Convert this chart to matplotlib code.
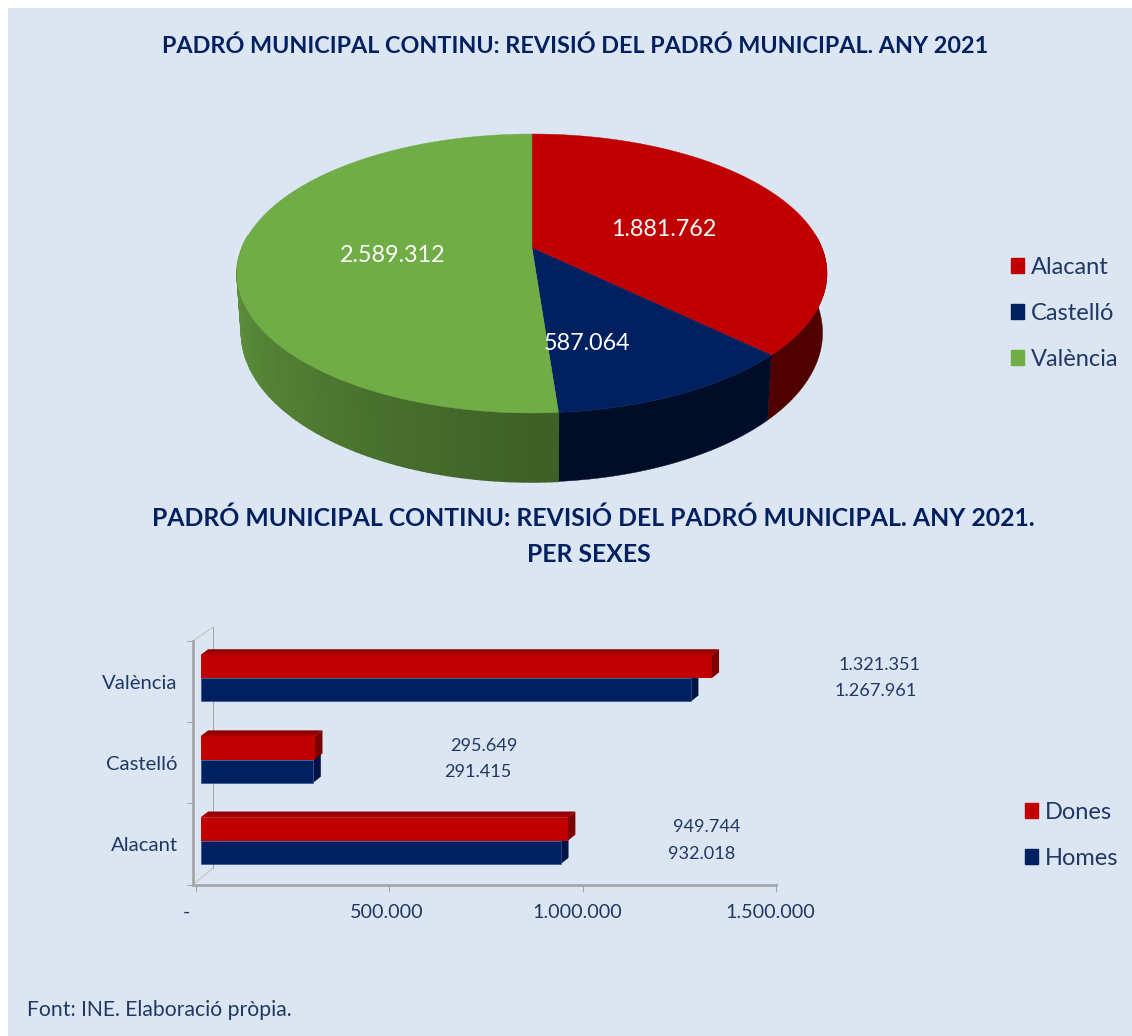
# -*- coding: utf-8 -*-

import numpy as np
import matplotlib
matplotlib.use('Agg')
import matplotlib.pyplot as plt
from matplotlib.patches import Patch, Rectangle
from matplotlib.transforms import ScaledTranslation

plt.rcParams['font.family'] = ['Lato', 'DejaVu Sans']

provinces = ['Alacant', 'Castelló', 'València']
total_pop = [1881762, 587064, 2589312]
total_labels = ['1.881.762', '587.064', '2.589.312']

bar_cats = ['Alacant', 'Castelló', 'València']
dones = [949744, 295649, 1321351]
homes = [932018, 291415, 1267961]
dones_labels = ['949.744', '295.649', '1.321.351']
homes_labels = ['932.018', '291.415', '1.267.961']
x_ticks = [0, 500000, 1000000, 1500000]
x_tick_labels = ['-', '500.000', '1.000.000', '1.500.000']

RED = '#c00000'
NAVY = '#002060'
GREEN = '#70ad47'
BG = '#dce6f2'
TXT = '#1f3864'

W, H = 1132, 1036
fig = plt.figure(figsize=(W / 100, H / 100), dpi=100, facecolor='white')

# page axes in pixels, used for the panel, the pie and the loose text
page = fig.add_axes([0, 0, 1, 1])
page.set_xlim(0, W)
page.set_ylim(H, 0)
page.axis('off')
page.add_patch(Rectangle((8, 8), W - 8, H - 8, color=BG, lw=0))


def top_disc(theta):
    # perspective view of the pie disc, apex sits above the ellipse centre
    u, v = np.sin(theta), np.cos(theta)
    d = 1 + 0.1828 * v
    return 532 + 290 * u / d, (248 - 89.5 * v) / d


def low_disc(theta):
    x, y = top_disc(theta)
    return 532 + (x - 532) * 0.985, 248 + 57.5 + (y - 248) * 1.07


def shade(col, f):
    c = np.array(matplotlib.colors.to_rgb(col))
    return tuple(c * f)


fracs = np.array(total_pop) / sum(total_pop)
edges = np.concatenate([[0], np.cumsum(fracs)]) * 2 * np.pi
cols = [RED, NAVY, GREEN]

# rim of red and navy, flat dark colour
for i in [0, 1]:
    ths = np.linspace(max(edges[i], np.pi / 2 - 0.1), edges[i + 1], 120)
    x1, y1 = top_disc(ths)
    x2, y2 = low_disc(ths)
    page.fill(np.r_[x1, x2[::-1]], np.r_[y1, y2[::-1]], color=shade(cols[i], 0.42), lw=0.3, zorder=2)

# rim of green, strips for the gradient, near ones drawn last
ths = np.arange(edges[2], 3 * np.pi / 2 + 0.1, 0.02)
for a, b in sorted(zip(ths[:-1], ths[1:]), key=lambda s: -np.cos(s[0])):
    x1, y1 = top_disc(a)
    x2, y2 = top_disc(b)
    x3, y3 = low_disc(b)
    x4, y4 = low_disc(a)
    t = np.clip((a - np.pi) / (np.pi / 2), 0, 1)
    page.fill([x1, x2, x3, x4], [y1, y2, y3, y4], color=shade(GREEN, 0.56 + 0.32 * t), lw=1.0, zorder=2)

# top faces
for i, col in enumerate(cols):
    ths = np.linspace(edges[i], edges[i + 1], 200)
    x, y = top_disc(ths)
    page.fill(np.r_[532, x], np.r_[248, y], color=col, lw=0.3, zorder=3)

pie_label_xy = [(664, 229), (587, 344), (393, 255)]
for lab, (px, py) in zip(total_labels, pie_label_xy):
    page.text(px, py, lab, color='white', fontsize=16.8, ha='center', va='center', zorder=5)

page.text(575, 46, 'PADRÓ MUNICIPAL CONTINU: REVISIÓ DEL PADRÓ MUNICIPAL. ANY 2021',
          color=NAVY, fontsize=16.8, fontweight='bold', ha='center', va='center')
page.text(593, 518, 'PADRÓ MUNICIPAL CONTINU: REVISIÓ DEL PADRÓ MUNICIPAL. ANY 2021.',
          color=NAVY, fontsize=17.8, fontweight='bold', ha='center', va='center')
page.text(589, 554, 'PER SEXES', color=NAVY, fontsize=17.8, fontweight='bold', ha='center', va='center')
page.text(27, 1010, 'Font: INE. Elaboració pròpia.', color=TXT, fontsize=15.2, ha='left', va='center')


def add_legend(handles, labels, x, y, size):
    leg = page.legend(handles, labels, loc='upper left', bbox_transform=page.transData,
                      bbox_to_anchor=(x, y), frameon=False, fontsize=size, labelcolor=TXT,
                      handlelength=0.56, handleheight=0.6, handletextpad=0.3,
                      labelspacing=1.06, borderpad=0, borderaxespad=0)
    return leg


page.add_artist(add_legend([Patch(color=c) for c in cols], provinces, 1011, 257, 17))
add_legend([Patch(color=RED), Patch(color=NAVY)], ['Dones', 'Homes'], 1025, 802, 17)

# bar chart on real axes, x pixels 193..776 and y pixels 641..884
X0 = 196.0
KX = (776.0 - X0) / 1500000
ax = fig.add_axes([193 / W, 1 - 884.5 / H, (776 - 193) / W, (884.5 - 641) / H])
ax.patch.set_alpha(0)
ax.set_xlim(-3 / KX, 1500000)
ax.set_ylim(0, 3)
for s in ['top', 'right']:
    ax.spines[s].set_visible(False)
for s in ['left', 'bottom']:
    ax.spines[s].set_color('#a6a6a6')
    ax.spines[s].set_linewidth(2)

SHIFT = 12000
bar_h = 0.285
ypos = np.arange(3) + 0.5
PX_Y = (884.5 - 641) / 3
dx, dy = 7.5 / KX, 6 / PX_Y
y_up = 0.04

# back wall of the 3D frame
wall_x = 17 / KX
ax.plot([wall_x, wall_x], [0.2, 3 + 14 / PX_Y], color='#a6a6a6', lw=0.8, clip_on=False, zorder=1)
ax.plot([-3 / KX, wall_x], [3, 3 + 14 / PX_Y], color='#c4c4c4', lw=0.8, clip_on=False, zorder=1)
ax.plot([-3 / KX, wall_x], [0, 0.2], color='#c4c4c4', lw=0.8, clip_on=False, zorder=1)

for i in range(3):
    yc = ypos[i] + y_up
    ax.barh(yc + bar_h / 2, dones[i], bar_h, left=SHIFT, color=RED, zorder=4)
    ax.barh(yc - bar_h / 2, homes[i], bar_h, left=SHIFT, color=NAVY, edgecolor='#2f5597', lw=0.5, zorder=4)
    # top face, lighter band next to the front
    ax.fill([SHIFT, SHIFT + dones[i], SHIFT + dones[i] + dx, SHIFT + dx],
            [yc + bar_h, yc + bar_h, yc + bar_h + dy, yc + bar_h + dy], color='#8e0000', lw=0, zorder=3)
    ax.fill([SHIFT, SHIFT + dones[i], SHIFT + dones[i] + dx / 2, SHIFT + dx / 2],
            [yc + bar_h, yc + bar_h, yc + bar_h + dy / 2, yc + bar_h + dy / 2], color='#aa0000', lw=0, zorder=3)
    ax.fill([SHIFT + dones[i], SHIFT + dones[i] + dx, SHIFT + dones[i] + dx, SHIFT + dones[i]],
            [yc, yc + dy, yc + bar_h + dy, yc + bar_h], color='#7c0000', lw=0, zorder=3)
    ax.fill([SHIFT + homes[i], SHIFT + homes[i] + dx, SHIFT + homes[i] + dx, SHIFT + homes[i]],
            [yc - bar_h, yc - bar_h + dy, yc + dy, yc], color='#001444', lw=0, zorder=2)

# label offsets from the bar end, in pixels, as placed in the original
dones_off = [105, 135, 127]
homes_off = [107, 131, 144]
for i in range(3):
    ax.annotate(dones_labels[i], (SHIFT + dones[i], ypos[i] + 0.21), xytext=(dones_off[i] * 0.72, 0),
                textcoords='offset points', color=TXT, fontsize=13.1, ha='left', va='center')
    ax.annotate(homes_labels[i], (SHIFT + homes[i], ypos[i] - 0.12), xytext=(homes_off[i] * 0.72, 0),
                textcoords='offset points', color=TXT, fontsize=13.1, ha='left', va='center')

ax.set_xticks(x_ticks)
ax.set_xticklabels(x_tick_labels, color=TXT, fontsize=14.2)
ax.tick_params(axis='x', length=5, width=0.8, color='#a6a6a6', pad=9)
for lab, off in zip(ax.get_xticklabels(), [-10, -3, -5, -6]):
    lab.set_transform(lab.get_transform() + ScaledTranslation(off / 100, 0, fig.dpi_scale_trans))
ax.set_yticks([0, 1, 2, 3])
ax.set_yticklabels([])
ax.tick_params(axis='y', which='major', length=4, width=0.8, color='#a6a6a6')
ax.set_yticks(ypos, minor=True)
ax.set_yticklabels(bar_cats, minor=True, color=TXT, fontsize=14.6)
ax.tick_params(axis='y', which='minor', length=0, pad=11)

fig.savefig('out.png', dpi=100, facecolor='white')
